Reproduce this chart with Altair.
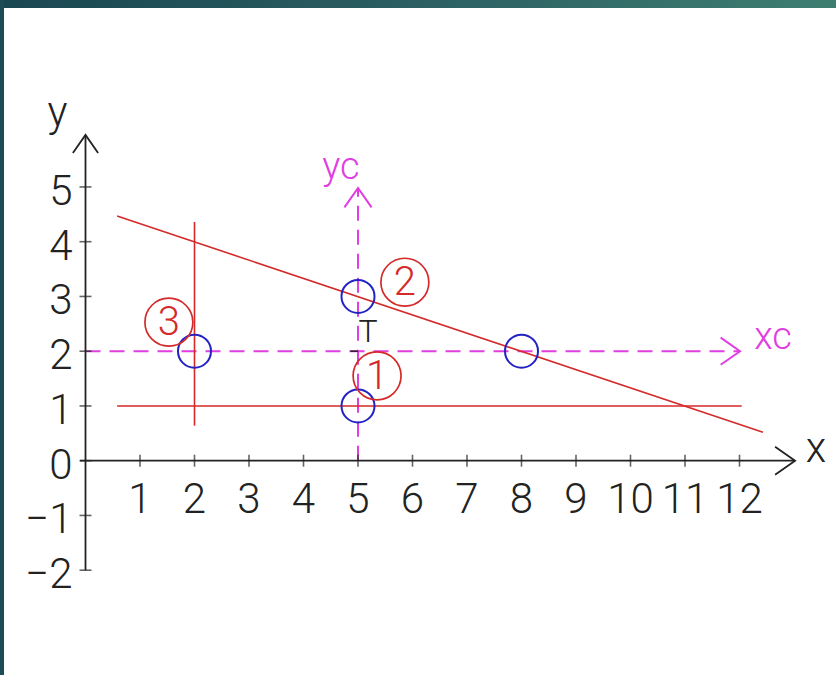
import altair as alt
import pandas as pd

# ---- values ----------------------------------------------------------
x_ticks = list(range(1, 13))
y_ticks = list(range(-2, 6))
x_tick_labels = [str(v) for v in x_ticks]
y_tick_labels = ["−2", "−1", "0", "1", "2", "3", "4", "5"]

# axis lines (from, to)
axis_x0, axis_x1 = 0.0, 13.02
axis_y0, axis_y1 = -2.0, 5.95

# red construction lines: x, y, x2, y2
red_x1 = [0.58, 0.58, 2.0]
red_y1 = [4.47, 1.0, 4.36]
red_x2 = [12.43, 12.04, 2.0]
red_y2 = [0.52, 1.0, 0.64]

# dashed centre lines xc / yc
xc_from, xc_to, xc_level = 0.0, 12.01, 2.0
yc_from, yc_to, yc_level = 0.0, 4.98, 5.0

# marked points
pt_x = [2, 5, 5, 8]
pt_y = [2, 3, 1, 2]

# numbered callouts
call_text = ["1", "2", "3"]
call_x = [5.35, 5.86, 1.53]
call_y = [1.55, 3.26, 2.53]

# ---- scales ----------------------------------------------------------
W, H = 836, 675
PX_X, PX_Y = 54.5, 54.75
ORIGIN_X, ORIGIN_Y = 85.5, 460.7
xs = alt.Scale(domain=[-ORIGIN_X / PX_X, (W - ORIGIN_X) / PX_X], nice=False, zero=False)
ys = alt.Scale(domain=[(ORIGIN_Y - H) / PX_Y, ORIGIN_Y / PX_Y], nice=False, zero=False)


def X(f="x"):
    return alt.X(f"{f}:Q", scale=xs, axis=None)


def Y(f="y"):
    return alt.Y(f"{f}:Q", scale=ys, axis=None)


FONT = "Roboto"
BLACK = "#222222"
RED = "#d42a2a"
MAGENTA = "#e03ee0"
BLUE = "#2323c4"
LABEL_SIZE = 42

one = pd.DataFrame({"a": [0]})

# ---- slide frame -----------------------------------------------------
frame_grad = alt.Gradient(
    gradient="linear",
    stops=[alt.GradientStop(color="#1a4651", offset=0),
           alt.GradientStop(color="#2b5f62", offset=0.5),
           alt.GradientStop(color="#3e7e71", offset=1)],
    x1=0, x2=1, y1=0, y2=0,
)
top_bar = alt.Chart(one).mark_rect(color=frame_grad).encode(
    x=alt.value(0), x2=alt.value(W), y=alt.value(0), y2=alt.value(8)
)
left_bar = alt.Chart(one).mark_rect(color="#1d4b56").encode(
    x=alt.value(0), x2=alt.value(4), y=alt.value(0), y2=alt.value(H)
)

# ---- axes ------------------------------------------------------------
axes_df = pd.DataFrame({
    "x": [axis_x0 - 0.1, 0.0],
    "y": [0.0, axis_y0],
    "x2": [axis_x1, 0.0],
    "y2": [0.0, axis_y1],
})
axes = alt.Chart(axes_df).mark_rule(color=BLACK, strokeWidth=1.8).encode(
    x=X(), y=Y(), x2="x2:Q", y2="y2:Q"
)

xt = alt.Chart(pd.DataFrame({"x": x_ticks, "y": [0] * len(x_ticks)}))
xtick_marks = xt.mark_tick(orient="vertical", size=12, thickness=1.6, color=BLACK).encode(x=X(), y=Y())

yt = alt.Chart(pd.DataFrame({"x": [0] * len(y_ticks), "y": y_ticks}))
ytick_marks = yt.mark_tick(orient="horizontal", size=12, thickness=1.6, color=BLACK).encode(x=X(), y=Y())

xlab = alt.Chart(pd.DataFrame({"x": x_ticks, "y": [0] * len(x_ticks), "t": x_tick_labels})).mark_text(
    font=FONT, fontWeight=300, fontSize=LABEL_SIZE, color=BLACK, baseline="middle", align="center", dy=39
).encode(x=X(), y=Y(), text="t:N")

ylab = alt.Chart(pd.DataFrame({"x": [0] * len(y_ticks), "y": y_ticks, "t": y_tick_labels})).mark_text(
    font=FONT, fontWeight=300, fontSize=LABEL_SIZE, color=BLACK, baseline="middle", align="right", dx=-13, dy=5
).encode(x=X(), y=Y(), text="t:N")

up_arrow = "M-0.7,1L0,0L0.7,1"
right_arrow = "M-1,-0.7L0,0L-1,0.7"

axis_up = alt.Chart(pd.DataFrame({"x": [0.0], "y": [axis_y1]})).mark_point(
    shape=up_arrow, size=1300, filled=False, color=BLACK, strokeWidth=1.8, opacity=1
).encode(x=X(), y=Y())
axis_right = alt.Chart(pd.DataFrame({"x": [axis_x1], "y": [0.0]})).mark_point(
    shape=right_arrow, size=1600, filled=False, color=BLACK, strokeWidth=1.8, opacity=1
).encode(x=X(), y=Y())

x_name = alt.Chart(pd.DataFrame({"x": [axis_x1], "y": [0.0], "t": ["x"]})).mark_text(
    font=FONT, fontWeight=300, fontSize=LABEL_SIZE, color=BLACK, baseline="middle", align="center",
    dx=21, dy=-12
).encode(x=X(), y=Y(), text="t:N")
y_name = alt.Chart(pd.DataFrame({"x": [0.0], "y": [axis_y1], "t": ["y"]})).mark_text(
    font=FONT, fontWeight=300, fontSize=LABEL_SIZE, color=BLACK, baseline="middle", align="center",
    dx=-28, dy=-22
).encode(x=X(), y=Y(), text="t:N")

# ---- dashed centre lines --------------------------------------------
dash_df = pd.DataFrame({
    "x": [xc_from, yc_level],
    "y": [xc_level, yc_from],
    "x2": [xc_to, yc_level],
    "y2": [xc_level, yc_to],
})
dashes = alt.Chart(dash_df).mark_rule(color=MAGENTA, strokeWidth=2, strokeDash=[15, 9]).encode(
    x=X(), y=Y(), x2="x2:Q", y2="y2:Q"
)
mag_up = alt.Chart(pd.DataFrame({"x": [yc_level], "y": [yc_to]})).mark_point(
    shape=up_arrow, size=1500, filled=False, color=MAGENTA, strokeWidth=2, opacity=1
).encode(x=X(), y=Y())
mag_right = alt.Chart(pd.DataFrame({"x": [xc_to], "y": [xc_level]})).mark_point(
    shape=right_arrow, size=1500, filled=False, color=MAGENTA, strokeWidth=2, opacity=1
).encode(x=X(), y=Y())
xc_name = alt.Chart(pd.DataFrame({"x": [xc_to], "y": [xc_level], "t": ["xc"]})).mark_text(
    font=FONT, fontWeight=300, fontSize=38, color=MAGENTA, baseline="middle", align="center",
    dx=33, dy=-13
).encode(x=X(), y=Y(), text="t:N")
yc_name = alt.Chart(pd.DataFrame({"x": [yc_level], "y": [yc_to], "t": ["yc"]})).mark_text(
    font=FONT, fontWeight=300, fontSize=38, color=MAGENTA, baseline="middle", align="center",
    dx=-17, dy=-20
).encode(x=X(), y=Y(), text="t:N")

# small black mark at the centre-line crossing
cross_mark = alt.Chart(pd.DataFrame({"x": [4.86], "y": [2.0], "x2": [5.0]})).mark_rule(
    color=BLACK, strokeWidth=1.5
).encode(x=X(), y=Y(), x2="x2:Q")

# ---- red construction lines -----------------------------------------
red_df = pd.DataFrame({"x": red_x1, "y": red_y1, "x2": red_x2, "y2": red_y2})
red_lines = alt.Chart(red_df).mark_rule(color=RED, strokeWidth=1.6).encode(
    x=X(), y=Y(), x2="x2:Q", y2="y2:Q"
)

# ---- points and callouts --------------------------------------------
points = alt.Chart(pd.DataFrame({"x": pt_x, "y": pt_y})).mark_point(
    shape="circle", size=1090, filled=False, color=BLUE, strokeWidth=2, opacity=1
).encode(x=X(), y=Y())

call_df = pd.DataFrame({"x": call_x, "y": call_y, "t": call_text})
call_rings = alt.Chart(call_df).mark_point(
    shape="circle", size=2300, filled=False, color=RED, strokeWidth=1.7, opacity=1
).encode(x=X(), y=Y())
call_nums = alt.Chart(call_df).mark_text(
    font=FONT, fontWeight=300, fontSize=40, color=RED, baseline="middle", align="center", dy=1
).encode(x=X(), y=Y(), text="t:N")

t_label = alt.Chart(pd.DataFrame({"x": [5.0], "y": [2.0], "t": ["T"]})).mark_text(
    font=FONT, fontWeight=300, fontSize=32, color=BLACK, baseline="middle", align="center", dx=10, dy=-19
).encode(x=X(), y=Y(), text="t:N")

chart = alt.layer(
    top_bar, left_bar,
    dashes, mag_up, mag_right, xc_name, yc_name,
    red_lines,
    axes, xtick_marks, ytick_marks, axis_up, axis_right, x_name, y_name, xlab, ylab,
    cross_mark,
    points, call_rings, call_nums, t_label,
).properties(
    width=W, height=H, padding=0, autosize=alt.AutoSizeParams(type="none"), background="white"
).configure_view(stroke=None)

chart.save("out.html", embed_options={"renderer": "svg", "actions": False})
